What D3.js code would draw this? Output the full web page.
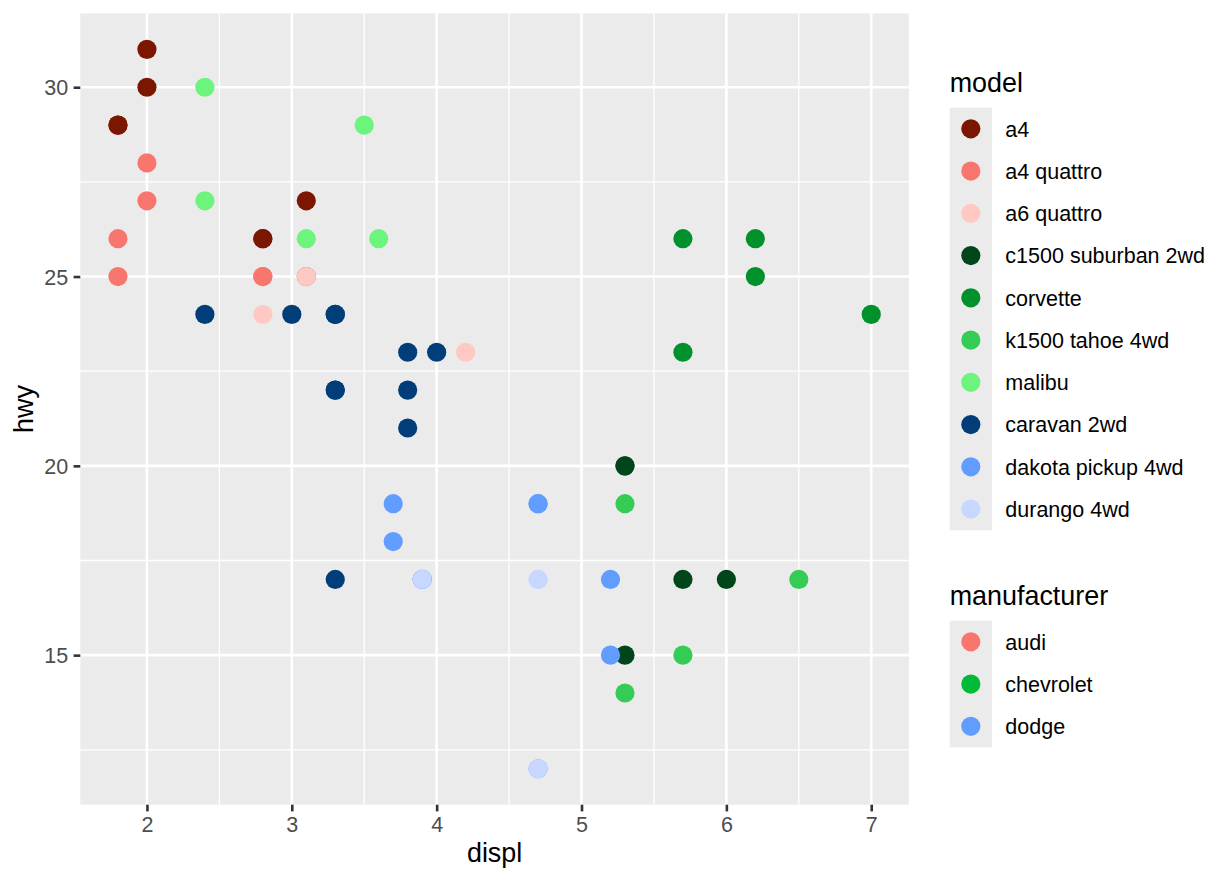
<!DOCTYPE html>
<html>
<head>
<meta charset="utf-8">
<script src="https://cdn.jsdelivr.net/npm/d3@7"></script>
<style>
  html, body { margin: 0; padding: 0; background: #ffffff; }
  svg { display: block; font-family: "Liberation Sans", Arial, Helvetica, sans-serif; }
</style>
</head>
<body>
<svg id="chart" width="1232" height="880"></svg>
<script>
// ---- data ----
const models = ["a4", "a4 quattro", "a6 quattro", "c1500 suburban 2wd", "corvette",
  "k1500 tahoe 4wd", "malibu", "caravan 2wd", "dakota pickup 4wd", "durango 4wd"];
const modelColors = ["#7B1700", "#F8766D", "#FFC9C3", "#00461A", "#00912D",
  "#35CC55", "#6CF47D", "#003D79", "#619CFF", "#C7D7FF"];
const manufacturers = ["audi", "chevrolet", "dodge"];
const manufacturerColors = ["#F8766D", "#00BA38", "#619CFF"];

// points per model: displ and hwy (drawn in this order)
const displ_a4 = [1.8, 1.8, 2.0, 2.0, 2.8, 2.8, 3.1];
const hwy_a4 = [29, 29, 31, 30, 26, 26, 27];
const displ_a4q = [1.8, 1.8, 2.0, 2.0, 2.8, 2.8, 3.1, 3.1];
const hwy_a4q = [26, 25, 28, 27, 25, 25, 25, 25];
const displ_a6q = [2.8, 3.1, 4.2];
const hwy_a6q = [24, 25, 23];
const displ_c1500 = [5.3, 5.3, 5.3, 5.7, 6.0];
const hwy_c1500 = [20, 15, 20, 17, 17];
const displ_corvette = [5.7, 5.7, 6.2, 6.2, 7.0];
const hwy_corvette = [26, 23, 26, 25, 24];
const displ_k1500 = [5.3, 5.3, 5.7, 6.5];
const hwy_k1500 = [19, 14, 15, 17];
const displ_malibu = [2.4, 2.4, 3.1, 3.5, 3.6];
const hwy_malibu = [27, 30, 26, 29, 26];
const displ_caravan = [2.4, 3.0, 3.3, 3.3, 3.3, 3.3, 3.3, 3.8, 3.8, 3.8, 4.0];
const hwy_caravan = [24, 24, 22, 22, 24, 24, 17, 22, 21, 23, 23];
const displ_dakota = [3.7, 3.7, 3.9, 3.9, 4.7, 4.7, 4.7, 5.2, 5.2];
const hwy_dakota = [19, 18, 17, 17, 19, 19, 12, 17, 15];
const displ_durango = [3.9, 4.7, 4.7, 4.7];
const hwy_durango = [17, 17, 17, 12];

const xTicks = [2, 3, 4, 5, 6, 7];
const yTicks = [15, 20, 25, 30];
const xMinor = [2.5, 3.5, 4.5, 5.5, 6.5];
const yMinor = [12.5, 17.5, 22.5, 27.5];

const series = [
  [displ_a4, hwy_a4], [displ_a4q, hwy_a4q], [displ_a6q, hwy_a6q],
  [displ_c1500, hwy_c1500], [displ_corvette, hwy_corvette], [displ_k1500, hwy_k1500],
  [displ_malibu, hwy_malibu], [displ_caravan, hwy_caravan], [displ_dakota, hwy_dakota],
  [displ_durango, hwy_durango]
];
const points = [];
series.forEach((s, i) => s[0].forEach((d, j) => points.push({model: models[i], displ: d, hwy: s[1][j]})));

// ---- layout ----
const svg = d3.select("#chart");
const panel = {left: 80.3, right: 908.9, top: 13.4, bottom: 804.7};

const x = d3.scaleLinear().domain([1.54, 7.26]).range([panel.left, panel.right]);
const y = d3.scaleLinear().domain([11.05, 31.95]).range([panel.bottom, panel.top]);
const color = d3.scaleOrdinal().domain(models).range(modelColors);
const mColor = d3.scaleOrdinal().domain(manufacturers).range(manufacturerColors);

// panel background
svg.append("rect")
  .attr("x", panel.left).attr("y", panel.top)
  .attr("width", panel.right - panel.left).attr("height", panel.bottom - panel.top)
  .attr("fill", "#EBEBEB");

const grid = svg.append("g");
grid.selectAll(".xminor").data(xMinor).join("line")
  .attr("x1", d => x(d)).attr("x2", d => x(d))
  .attr("y1", panel.top).attr("y2", panel.bottom)
  .attr("stroke", "#ffffff").attr("stroke-width", 1.3);
grid.selectAll(".yminor").data(yMinor).join("line")
  .attr("y1", d => y(d)).attr("y2", d => y(d))
  .attr("x1", panel.left).attr("x2", panel.right)
  .attr("stroke", "#ffffff").attr("stroke-width", 1.3);
grid.selectAll(".xmajor").data(xTicks).join("line")
  .attr("x1", d => x(d)).attr("x2", d => x(d))
  .attr("y1", panel.top).attr("y2", panel.bottom)
  .attr("stroke", "#ffffff").attr("stroke-width", 2.6);
grid.selectAll(".ymajor").data(yTicks).join("line")
  .attr("y1", d => y(d)).attr("y2", d => y(d))
  .attr("x1", panel.left).attr("x2", panel.right)
  .attr("stroke", "#ffffff").attr("stroke-width", 2.6);

// axes
const xAxis = d3.axisBottom(x).tickValues(xTicks).tickSize(6.7).tickPadding(5.4).tickFormat(d3.format("d"));
const yAxis = d3.axisLeft(y).tickValues(yTicks).tickSize(6.7).tickPadding(5.4).tickFormat(d3.format("d"));

const gx = svg.append("g").attr("transform", `translate(0,${panel.bottom})`).call(xAxis);
const gy = svg.append("g").attr("transform", `translate(${panel.left},0)`).call(yAxis);
[gx, gy].forEach(g => {
  g.select(".domain").remove();
  g.selectAll(".tick line").attr("stroke", "#333333").attr("stroke-width", 2.6);
  g.selectAll(".tick text").attr("fill", "#4D4D4D")
    .style("font-size", "21.5px").style("font-family", "'Liberation Sans', Arial, sans-serif");
});
gx.selectAll(".tick text").attr("dy", null).attr("y", 27);
gy.selectAll(".tick text").attr("dy", "0.36em");

// axis titles
svg.append("text").attr("x", (panel.left + panel.right) / 2).attr("y", 861.7)
  .attr("text-anchor", "middle").attr("fill", "#000").style("font-size", "26.9px").text("displ");
svg.append("text").attr("transform", `translate(32.5,${(panel.top + panel.bottom) / 2}) rotate(-90)`)
  .attr("text-anchor", "middle").attr("fill", "#000").style("font-size", "26.9px").text("hwy");

// points
svg.append("g").selectAll("circle").data(points).join("circle")
  .attr("cx", d => x(d.displ)).attr("cy", d => y(d.hwy))
  .attr("r", 9.6).attr("fill", d => color(d.model));

// legends
const keyH = 42.25, keyW = 42.25, legX = 949.7;
function legend(title, items, colFn, titleY, keysTop) {
  const g = svg.append("g");
  g.append("text").attr("x", legX).attr("y", titleY).attr("fill", "#000")
    .style("font-size", "26.9px").text(title);
  g.append("rect").attr("x", legX).attr("y", keysTop)
    .attr("width", keyW).attr("height", keyH * items.length).attr("fill", "#EBEBEB");
  const it = g.selectAll("g.item").data(items).join("g")
    .attr("transform", (d, i) => `translate(${legX},${keysTop + i * keyH})`);
  it.append("circle").attr("cx", keyW / 2).attr("cy", keyH / 2).attr("r", 9.6).attr("fill", d => colFn(d));
  it.append("text").attr("x", keyW + 13.4).attr("y", keyH / 2).attr("dy", "0.36em")
    .attr("fill", "#000").style("font-size", "21.5px").text(d => d);
}
legend("model", models, color, 91.7, 107.7);
legend("manufacturer", manufacturers, mColor, 605, 620.7);
</script>
</body>
</html>
